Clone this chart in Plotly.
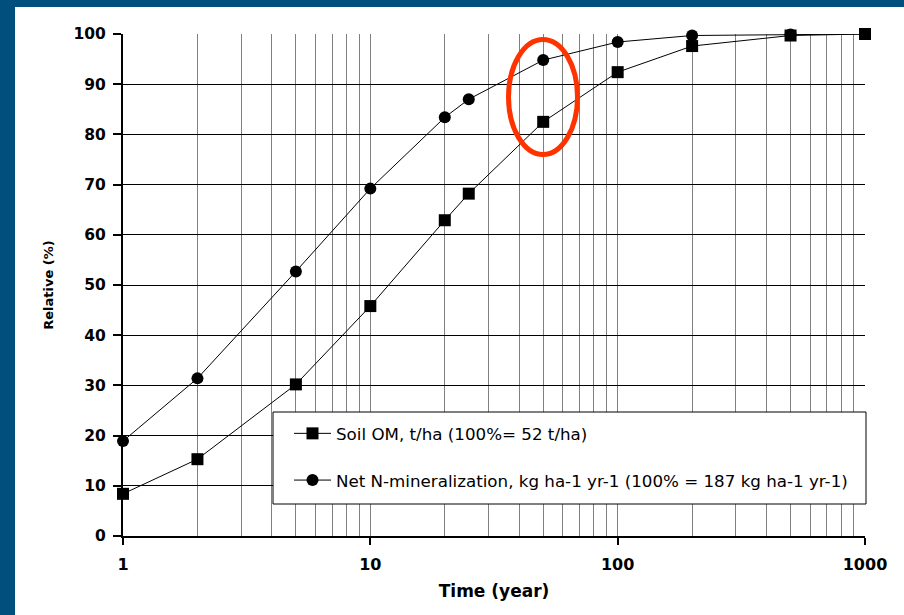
import plotly.graph_objects as go

years = [1, 2, 5, 10, 20, 25, 50, 100, 200, 500, 1000]
soil_om = [8.4, 15.3, 30.2, 45.8, 62.9, 68.2, 82.5, 92.4, 97.6, 99.7, 100]
n_min = [18.9, 31.4, 52.7, 69.2, 83.4, 87.0, 94.8, 98.4, 99.7, 99.9, 100]
x_ticks = [1, 10, 100, 1000]
y_ticks = list(range(0, 101, 10))
minor_x = [2, 3, 4, 5, 6, 7, 8, 9, 20, 30, 40, 50, 60, 70, 80, 90,
           200, 300, 400, 500, 600, 700, 800, 900]

W, H = 904, 615
L, R, T, B = 123, 865, 34, 536
pw, ph = R - L, B - T

def px(x):
    return (x - L) / pw

def py(y):
    return (B - y) / ph

font = "DejaVu Sans, Verdana, sans-serif"

fig = go.Figure()
fig.add_trace(go.Scatter(
    x=years, y=n_min, mode="lines+markers",
    name="Net N-mineralization, kg ha-1 yr-1 (100% = 187 kg ha-1 yr-1)",
    line=dict(color="black", width=1),
    marker=dict(symbol="circle", size=12, color="black"),
    legendgroup="b", legendrank=2, cliponaxis=False,
))
fig.add_trace(go.Scatter(
    x=years, y=soil_om, mode="lines+markers",
    name="Soil OM, t/ha (100%= 52 t/ha)",
    line=dict(color="black", width=1),
    marker=dict(symbol="square", size=12, color="black"),
    legendgroup="a", legendrank=1, cliponaxis=False,
))

fig.update_xaxes(
    type="log", range=[0, 3],
    tickvals=x_ticks, ticktext=[str(v) for v in x_ticks],
    ticks="outside", ticklen=7, tickwidth=2, tickcolor="black",
    ticklabelstandoff=6,
    showgrid=True, gridcolor="#808080", gridwidth=1,
    minor=dict(tickmode="array", tickvals=minor_x, showgrid=True,
               gridcolor="#808080", gridwidth=1, ticks=""),
    showline=True, linecolor="black", linewidth=2,
    zeroline=False,
    tickfont=dict(family=font, size=16, color="black", weight="bold"),
    title=dict(text="Time (year)", standoff=12,
               font=dict(family=font, size=17, color="black", weight="bold")),
)
fig.update_yaxes(
    range=[0, 100], tickvals=y_ticks,
    ticks="outside", ticklen=8, tickwidth=2, tickcolor="black",
    ticklabelstandoff=4,
    showgrid=True, gridcolor="black", gridwidth=1,
    showline=True, linecolor="black", linewidth=2,
    zeroline=False,
    tickfont=dict(family=font, size=15.5, color="black", weight="bold"),
    title=dict(text="Relative (%)", standoff=17,
               font=dict(family=font, size=13, color="black", weight="bold")),
)

shapes = [
    # dark blue frame bands
    dict(type="rect", xref="paper", yref="paper", x0=px(0), x1=px(15),
         y0=py(H), y1=py(0), fillcolor="#004f7c", line=dict(width=0), layer="below"),
    dict(type="rect", xref="paper", yref="paper", x0=px(0), x1=px(W),
         y0=py(7), y1=py(0), fillcolor="#004f7c", line=dict(width=0), layer="below"),
    # legend box
    dict(type="rect", xref="paper", yref="paper", x0=px(273), x1=px(866),
         y0=py(504), y1=py(412), fillcolor="white",
         line=dict(color="black", width=1), layer="above"),
    # red highlight ellipse
    dict(type="circle", xref="paper", yref="paper", x0=px(508.5), x1=px(577.5),
         y0=py(154.5), y1=py(39.5), line=dict(color="#ff3300", width=5),
         fillcolor="rgba(0,0,0,0)", layer="above"),
]

fig.update_layout(
    width=W, height=H,
    margin=dict(l=L, r=W - R, t=T, b=H - B),
    paper_bgcolor="white", plot_bgcolor="white",
    shapes=shapes,
    legend=dict(x=px(289), y=py(416), xanchor="left", yanchor="top",
                bgcolor="rgba(0,0,0,0)", borderwidth=0,
                font=dict(family=font, size=16.7, color="black"),
                itemwidth=37,
                tracegroupgap=22, traceorder="grouped"),
    showlegend=True,
)

fig.write_html("out.html")
